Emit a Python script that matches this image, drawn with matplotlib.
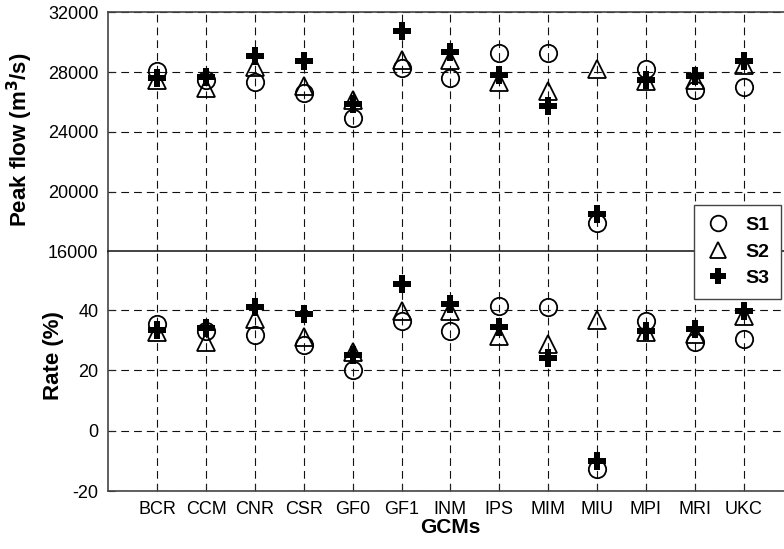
import matplotlib
matplotlib.use('Agg')
import matplotlib.pyplot as plt
import numpy as np

plt.rcParams['font.family'] = ['Liberation Sans', 'DejaVu Sans']
plt.rcParams['axes.unicode_minus'] = False

# Data
gcms = ['BCR', 'CCM', 'CNR', 'CSR', 'GF0', 'GF1', 'INM', 'IPS', 'MIM', 'MIU', 'MPI', 'MRI', 'UKC']

flow_s1 = [28090, 27490, 27310, 26600, 24930, 28270, 27600, 29270, 29270, 17890, 28200, 26770, 27000]
flow_s2 = [27490, 26930, 28370, 27090, 26150, 28820, 28820, 27330, 26710, 28200, 27380, 27490, 28490]
flow_s3 = [27600, 27670, 29090, 28710, 25870, 30770, 29370, 27820, 25710, 18490, 27490, 27750, 28750]

rate_s1 = [35.4, 33.2, 31.9, 28.6, 20.3, 36.5, 33.2, 41.5, 41.2, -12.7, 36.5, 29.4, 30.5]
rate_s2 = [32.7, 29.4, 37.1, 31.0, 26.1, 39.8, 39.6, 31.6, 28.8, 36.9, 32.7, 32.1, 38.2]
rate_s3 = [33.5, 34.1, 41.2, 38.7, 25.0, 48.8, 42.2, 34.3, 24.2, -10.2, 33.0, 33.8, 39.8]

series_names = ['S1', 'S2', 'S3']

x = np.arange(1, len(gcms) + 1)

W, H = 784, 549
fig = plt.figure(figsize=(W / 100, H / 100), dpi=100)

x0 = 108.3
ax_w = 14 * 48.87
y_top, y_mid, y_bot = 12.3, 251.5, 491.0
ax1 = fig.add_axes([x0 / W, 1 - y_mid / H, ax_w / W, (y_mid - y_top) / H])
ax2 = fig.add_axes([x0 / W, 1 - y_bot / H, ax_w / W, (y_bot - y_mid) / H])

styles = [
    dict(marker='o', fillstyle='none', color='black', markeredgewidth=1.3),
    dict(marker='^', fillstyle='none', color='black', markeredgewidth=1.3),
    dict(marker='P', color='black', markeredgewidth=0),
]
msize = 12.5

for ys, st, name in zip([flow_s1, flow_s2, flow_s3], styles, series_names):
    ax1.plot(x, ys, linestyle='none', markersize=msize, label=name, **st)
for ys, st in zip([rate_s1, rate_s2, rate_s3], styles):
    ax2.plot(x, ys, linestyle='none', markersize=msize, **st)

grid_kw = dict(color='#111111', linestyle=(0, (7, 4.5)), linewidth=0.8)
for ax in (ax1, ax2):
    ax.set_xlim(0, 14)
    ax.set_xticks(x)
    ax.set_axisbelow(True)
    ax.grid(True, **grid_kw)
    ax.tick_params(direction='in', length=5, width=0.8, colors='#222222',
                   labelsize=13, pad=7, labelcolor='black')
    for side in ('top', 'left', 'right', 'bottom'):
        ax.spines[side].set_color('#444444')
        ax.spines[side].set_linewidth(1.2)

ax1.set_ylim(16000, 32000)
ax1.set_yticks([16000, 20000, 24000, 28000, 32000])
ax1.tick_params(axis='x', labelbottom=False)
ax1.spines['bottom'].set_color('#222222')

ax2.set_ylim(-20, 59.5)
ax2.set_yticks([-20, 0, 20, 40])
ax2.set_xticklabels(gcms)
ax2.spines['top'].set_color('#222222')

# y labels: anchor is the right-hand side of the rotated text
ax1.set_ylabel('Peak flow (m$^\\mathbf{3}$/s)', fontsize=16, fontweight='bold')
ax2.set_ylabel('Rate (%)', fontsize=16, fontweight='bold')
ax1.yaxis.set_label_coords(-(x0 - 35) / ax_w, 1 - (140 - y_top) / (y_mid - y_top))
ax2.yaxis.set_label_coords(-(x0 - 64) / ax_w, 1 - (356 - y_mid) / (y_bot - y_mid))
ax2.set_xlabel('GCMs', fontsize=15, fontweight='bold', labelpad=0)

leg = fig.legend(loc='upper right', bbox_to_anchor=(780.7 / W, 1 - 205 / H),
                 bbox_transform=fig.transFigure, fancybox=False, framealpha=1,
                 edgecolor='#444444', prop={'size': 14, 'weight': 'bold'},
                 markerscale=0.9, handlelength=1.2, handletextpad=0.8,
                 labelspacing=0.45, borderpad=0.6, borderaxespad=0)
leg.get_frame().set_linewidth(1.0)

fig.savefig('out.png', dpi=100)
